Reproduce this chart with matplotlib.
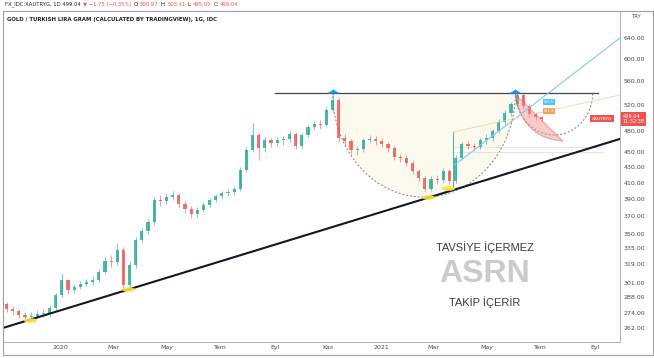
import numpy as np
import pandas as pd
import matplotlib
matplotlib.use("Agg")
import matplotlib.pyplot as plt
import matplotlib.dates as mdates
import matplotlib.transforms as mtransforms
from matplotlib.ticker import FixedLocator, FixedFormatter, NullLocator
from matplotlib.patches import PathPatch, Rectangle
from matplotlib.path import Path

plt.rcParams['font.family'] = ['DejaVu Sans']

# weekly candles (Nov 2019 .. Jul 2021)
week_start = "2019-11-01"
first_open = 282
closes = [278, 276, 272.7, 271, 272, 273.5, 274.4, 278.7, 290, 303.7,
          294.5, 297.3, 300, 302, 303.7, 311.3, 322, 321, 333, 299,
          318, 343.6, 353.2, 363, 388.6, 387, 392.2, 394.6, 384, 378,
          372.2, 376.8, 382.7, 388.6, 393.4, 397, 398, 402, 426, 453,
          474.7, 456, 467.4, 463, 467.4, 469, 476, 459, 474.7, 486.6,
          491, 489, 512.7, 528.8, 470, 466, 453, 455, 467.4, 469,
          466, 461.7, 456, 443.6, 442, 435.5, 425, 416, 402, 414.6,
          413.3, 425, 412, 442, 461.7, 459, 457.5, 467.4, 470, 480.6,
          494, 508, 522, 537, 519, 506, 501.8, 499.04]
highs = [284, 280, 278, 275, 275, 277, 278, 281, 292, 310,
         305, 300, 303, 305, 307, 314, 326, 328, 340, 336,
         322, 347, 357, 367, 392, 395, 397, 400, 397, 387,
         381, 380, 386, 391, 396, 400, 402, 406, 430, 458,
         493, 478, 472, 471, 472, 473, 480, 479, 478, 490,
         496, 497, 517, 541, 532, 476, 469, 459, 471, 474,
         473, 470, 465, 459, 448, 446, 439, 428, 419, 418,
         420, 429, 428, 447, 465, 466, 463, 471, 476, 484,
         498, 512, 526, 541, 539, 522, 510, 503.41]
lows = [275, 273, 270, 268, 268, 270, 271, 272, 277, 288,
        291, 292, 295, 298, 299, 302, 309, 316, 318, 293,
        296, 315, 340, 350, 360, 382, 384, 388, 380, 373,
        368, 369, 374, 380, 386, 390, 393, 395, 400, 423,
        450, 440, 451, 458, 459, 461, 464, 454, 456, 472,
        483, 484, 488, 509, 465, 460, 448, 447, 450, 463,
        461, 457, 451, 439, 437, 431, 421, 411, 398, 399,
        408, 410, 408, 410, 439, 455, 452, 454, 462, 466,
        477, 490, 504, 518, 515, 502, 497, 495.05]

price_ticks = [262, 274, 288, 301, 319, 335, 350, 370, 390, 410,
               430, 450, 480, 520, 560, 600, 640]
month_ticks = ["2020-01-01", "2020-03-01", "2020-05-01", "2020-07-01",
               "2020-09-01", "2020-11-01", "2021-01-01", "2021-03-01",
               "2021-05-01", "2021-07-01", "2021-09-01"]
month_labels = ["2020", "Mar", "May", "Tem", "Eyl", "Kas",
                "2021", "Mar", "May", "Tem", "Eyl"]

# drawings on the chart (dates, prices)
trend_start, trend_end = ("2019-10-28", 262), ("2021-09-29", 469)
neck_price, neck_from, neck_to = 541, "2020-09-01", "2021-09-04"
peaks = ["2020-11-06", "2021-06-02"]
cup_bottom = 392
handle_to, handle_bottom = "2021-08-29", 474.7
wedge = [("2021-06-02", 538), ("2021-06-10", 470), ("2021-07-26", 466)]
blue_line = [("2021-03-25", 433), ("2021-09-29", 640)]
orange_line = [("2021-03-23", 479), ("2021-09-29", 537)]
lows_marked = [("2019-11-28", 268.5), ("2020-03-18", 295.4),
               ("2021-02-23", 392), ("2021-03-17", 403)]
last_price = 499.04

UP, DOWN = "#26a69a", "#ef5350"


def dn(d):
    return mdates.date2num(pd.Timestamp(d))


def half_ellipse(d0, d1, top, bottom, n=120):
    t = np.linspace(np.pi, 2 * np.pi, n)
    x0, x1 = dn(d0), dn(d1)
    lt, lb = np.log(top), np.log(bottom)
    xs = (x0 + x1) / 2 + (x1 - x0) / 2 * np.cos(t)
    ys = np.exp(lt + (lt - lb) * np.sin(t))
    return xs, ys


W, H = 654, 358
fig = plt.figure(figsize=(W / 100, H / 100), dpi=100)
ax = fig.add_axes([3 / W, (H - 342) / H, (620 - 3) / W, (342 - 11) / H])
ax.set_yscale("log")

dates = mdates.date2num(pd.date_range(week_start, periods=len(closes), freq="7D"))
opens = [first_open] + closes[:-1]

# cup area and arcs
cx, cy = half_ellipse(peaks[0], peaks[1], neck_price, cup_bottom)
ax.fill_between(cx, cy, neck_price, color="#fcfaee", zorder=1, lw=0)
ax.plot(cx, cy, color="#7b7e88", lw=0.7, ls=(0, (2, 2)), zorder=2)
hx, hy = half_ellipse(peaks[1], handle_to, neck_price, handle_bottom)
ax.plot(hx, hy, color="#7b7e88", lw=0.7, ls=(0, (2, 2)), zorder=2)

# candles
for d, o, h, l, c in zip(dates, opens, highs, lows, closes):
    col = UP if c >= o else DOWN
    ax.vlines(d, l, h, color=col, lw=0.5, alpha=0.8, zorder=3)
    ax.bar(d, max(abs(c - o), 0.6), bottom=min(o, c), width=3.6,
           color=col, alpha=0.8, zorder=3, lw=0)

# handle wedge
p0, pc, p2 = [(dn(d), np.log(p)) for d, p in wedge]
tt = np.linspace(0, 1, 60)
bx = (1 - tt) ** 2 * p0[0] + 2 * (1 - tt) * tt * pc[0] + tt ** 2 * p2[0]
by = (1 - tt) ** 2 * p0[1] + 2 * (1 - tt) * tt * pc[1] + tt ** 2 * p2[1]
verts = list(zip(bx, np.exp(by))) + [(p0[0], np.exp(p0[1]))]
ax.add_patch(PathPatch(Path(verts), facecolor="#f28b8b", alpha=0.45,
                       edgecolor="#e04545", lw=0.7, zorder=4))

# lines
ax.plot([dn(neck_from), dn(neck_to)], [neck_price, neck_price],
        color="#434651", lw=0.9, zorder=5)
ax.plot([dn(trend_start[0]), dn(trend_end[0])], [trend_start[1], trend_end[1]],
        color="#131722", lw=1.5, zorder=5)
ax.plot([dn(d) for d, _ in blue_line], [p for _, p in blue_line],
        color="#7fcbe9", lw=0.8, zorder=5)
ax.plot([dn(d) for d, _ in orange_line], [p for _, p in orange_line],
        color="#f3cfae", lw=0.6, zorder=5)
ax.vlines(dn(orange_line[0][0]), 402, 479, color=UP, lw=0.6, zorder=5)
for lvl in (457, 450):
    ax.plot([dn("2021-03-23"), dn("2021-09-10")], [lvl, lvl],
            color="#d8d9de", lw=0.5, zorder=2)

# peak markers
tri = Path([(-1, 0), (1, 0), (0, 0.65), (-1, 0)])
ax.scatter([dn(d) for d in peaks], [neck_price] * 2, marker=tri, s=80,
           color="#2196f3", zorder=6, lw=0)

# yellow marks at the touches
t = np.linspace(0, 2 * np.pi, 40)
blob = Path(np.column_stack([np.cos(t), 0.35 * np.sin(t)]))
ax.scatter([dn(d) for d, _ in lows_marked], [p for _, p in lows_marked],
           marker=blob, s=90, color="#f5e23c", alpha=0.9, zorder=6, lw=0)

# small price labels
ax.text(dn("2021-07-10"), 525.5, "525.5", fontsize=2.5, color="white",
        ha="center", va="center", zorder=7,
        bbox=dict(boxstyle="square,pad=0.3", fc="#4fc3f7", ec="none"))
ax.text(dn("2021-07-10"), 511.3, "511.3", fontsize=2.5, color="white",
        ha="center", va="center", zorder=7,
        bbox=dict(boxstyle="square,pad=0.3", fc="#f6a15c", ec="none"))

# axes
ax.set_xlim(dn("2019-10-28"), dn("2021-09-29"))
ax.set_ylim(250.9, 695.5)
ax.yaxis.tick_right()
ax.yaxis.set_major_locator(FixedLocator(price_ticks))
ax.yaxis.set_major_formatter(FixedFormatter([f"{p:.2f}" for p in price_ticks]))
ax.yaxis.set_minor_locator(NullLocator())
ax.xaxis.set_major_locator(FixedLocator([dn(d) for d in month_ticks]))
ax.xaxis.set_major_formatter(FixedFormatter(month_labels))
ax.xaxis.set_minor_locator(NullLocator())
ax.tick_params(length=0, labelsize=4.5, colors="#4a4a4a", pad=2.5)
for s in ax.spines.values():
    s.set_color("#b0b0b0")
    s.set_linewidth(0.7)

# last price tags
blend = mtransforms.blended_transform_factory(ax.transAxes, ax.transData)
ax.text(1.004, last_price, "499.04\n11:32:38", transform=blend, fontsize=3.6,
        color="white", ha="left", va="center", zorder=8, linespacing=1.1,
        bbox=dict(boxstyle="square,pad=0.35", fc="#ef5350", ec="none"))
ax.text(0.971, last_price, "XAUTRYG", transform=blend, fontsize=3.2,
        color="white", ha="center", va="center", zorder=8,
        bbox=dict(boxstyle="square,pad=0.35", fc="#ef5350", ec="none"))

# watermark
ax.text(0.781, 0.287, "TAVSİYE İÇERMEZ", transform=ax.transAxes,
        family="Liberation Sans", fontsize=8, color="#3c3c3c",
        ha="center", va="center")
ax.text(0.781, 0.205, "ASRN", transform=ax.transAxes, family="Liberation Sans",
        fontsize=23, fontweight="bold", color="#cbcbcb", ha="center", va="center")
ax.text(0.781, 0.121, "TAKİP İÇERİR", transform=ax.transAxes,
        family="Liberation Sans", fontsize=8, color="#3c3c3c",
        ha="center", va="center")

# header, pieces laid out one after another
renderer = fig.canvas.get_renderer()
hy = 1 - 4.5 / H
parts = [("FX_IDC:XAUTRYG, 1D 499.04", "#222222"),
         ("▼ −1.75 (−0.35%)", "#ef5350"),
         ("O:", "#222222"), ("500.97", "#ef5350"),
         ("H:", "#222222"), ("503.41", "#ef5350"),
         ("L:", "#222222"), ("495.05", "#ef5350"),
         ("C:", "#222222"), ("499.04", "#ef5350")]
xpix = 5
for i, (s, c) in enumerate(parts):
    txt = fig.text(xpix / W, hy, s, fontsize=3.8, color=c, ha="left", va="center")
    bb = txt.get_window_extent(renderer)
    xpix = bb.x1 + (0.8 if s.endswith(":") else 2.2)
fig.text(7 / W, 1 - 19 / H, "GOLD / TURKISH LIRA GRAM (CALCULATED BY TRADINGVIEW), 1G, IDC",
         fontsize=3.9, fontweight="bold", color="#222222", ha="left", va="center")
fig.text(637 / W, 1 - 16 / H, "TRY", fontsize=3.8, color="#555555",
         ha="center", va="center")

fig.add_artist(Rectangle((3 / W, 3 / H), 650 / W, (355 - 11) / H,
                         transform=fig.transFigure, fill=False,
                         edgecolor="#a0a0a0", lw=0.8))

fig.savefig("out.png", dpi=100)
